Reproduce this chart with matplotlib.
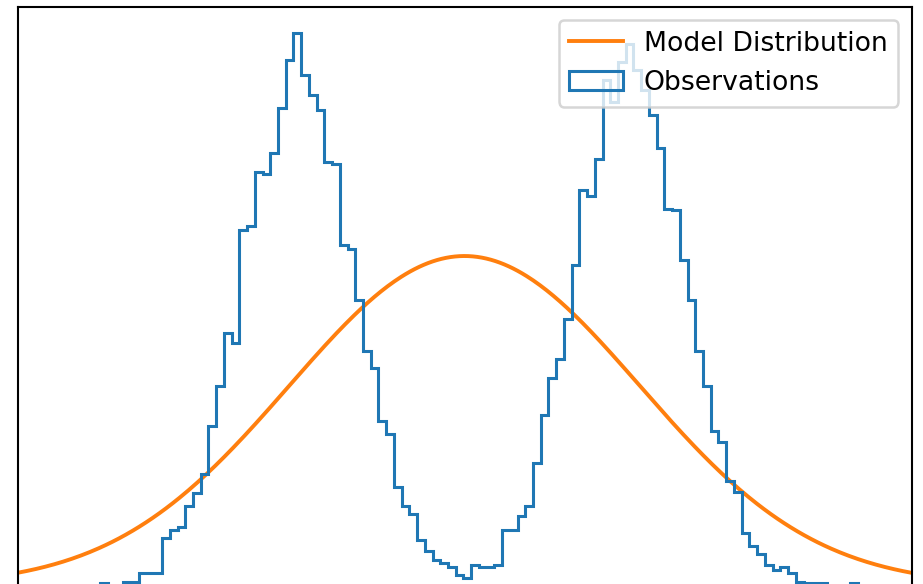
import numpy as np
import matplotlib
matplotlib.use("Agg")
import matplotlib.pyplot as plt

# histogram of observations: 98 bins of width 0.1 starting at -4.7
bin_start = -4.7
bin_width = 0.1
counts = [3, 0, 0, 4, 4, 13, 13, 13,
          48, 56, 59, 80, 93, 112, 160, 200, 253, 243,
          356, 360, 414, 412, 433, 478, 526, 553, 511, 491,
          476, 424, 422, 341, 337, 286, 235, 218, 165, 152,
          99, 80, 72, 46, 35, 26, 23, 19, 11, 8,
          21, 19, 19, 21, 56, 56, 70, 80, 123, 171,
          208, 227, 267, 321, 396, 390, 427, 506, 484, 524,
          542, 516, 496, 471, 438, 377, 376, 326, 286, 235,
          200, 155, 144, 105, 94, 53, 40, 32, 21, 16,
          19, 13, 4, 3, 3, 3, 0, 0, 0, 3]

x_min, x_max = -5.76, 5.80

counts = np.array(counts, dtype=float)
edges = bin_start + bin_width * np.arange(len(counts) + 1)
centers = (edges[:-1] + edges[1:]) / 2

# normal model fitted to the observations
mean = np.average(centers, weights=counts)
std = np.sqrt(np.average((centers - mean) ** 2, weights=counts))
xs = np.linspace(x_min, x_max, 400)
model = counts.sum() * bin_width * np.exp(-(xs - mean) ** 2 / (2 * std ** 2)) / (std * np.sqrt(2 * np.pi))

plt.rcParams['font.size'] = 19.2
plt.rcParams['patch.linewidth'] = 1.8

fig = plt.figure(figsize=(9.23, 5.84), dpi=100)
ax = fig.add_axes([18.3 / 923, -1.5 / 584, 893.4 / 923, 578.8 / 584])

ax.plot(xs, model, color='C1', lw=2.8, label='Model Distribution')
ax.hist(centers, bins=edges, weights=counts, histtype='step', color='C0', lw=2.2, label='Observations')

ax.set_xlim(x_min, x_max)
ax.set_ylim(0, 578.8)
ax.set_xticks([])
ax.set_yticks([])
for s in ax.spines.values():
    s.set_linewidth(1.5)

ax.legend(loc='upper right')

fig.savefig('out.png', dpi=100)
